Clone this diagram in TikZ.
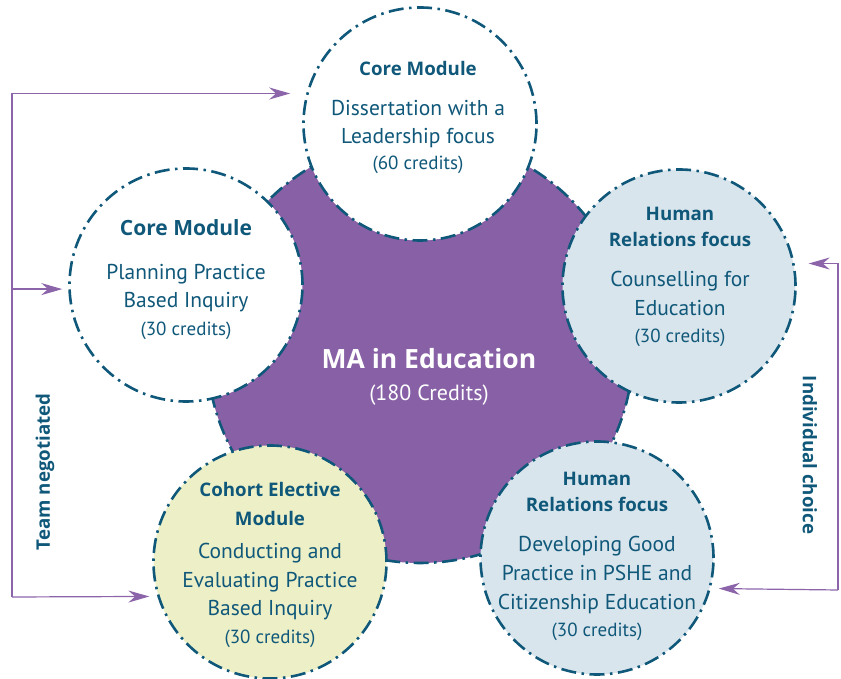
\documentclass[tikz,border=0pt]{standalone}
\usepackage{fontspec}
\setmainfont{PT Sans}
\newfontfamily\headfont{Open Sans}
\usetikzlibrary{arrows.meta}
\definecolor{mablue}{RGB}{16,88,122}
\definecolor{mapurple}{RGB}{135,96,165}
\definecolor{routepurple}{RGB}{140,100,170}
\definecolor{hrblue}{RGB}{217,229,236}
\definecolor{cohortyellow}{RGB}{237,240,199}
\newcommand\modhead{\headfont\bfseries\fontsize{18.7}{20}\selectfont}
\newcommand\credits{\fontsize{19}{22}\selectfont}
\tikzset{
  module/.style={circle,draw=mablue,line width=2.6pt,dash pattern=on 15pt off 5.5pt on 2.5pt off 5.5pt,minimum size=233pt,inner sep=0pt,fill=#1},
  modtext/.style={anchor=north,inner sep=0pt,align=center,text=mablue,font=\fontsize{21.5}{28}\selectfont},
  route/.style={draw=routepurple,line width=1.2pt,-{Stealth[length=21pt,width=12pt]}},
  routelabel/.style={text=mablue,font=\headfont\bfseries\fontsize{18.7}{20}\selectfont}
}

\begin{document}
\begin{tikzpicture}[x=1pt,y=1pt]
    \useasboundingbox (0,0) rectangle (841,679);

    \node [module=mapurple, minimum size=426pt] (ma) at (420,329) {};

    \node [module=white] (dissertation) at (420,555) {};
    \node [module=white] (planning) at (186,394) {};
    \node [module=hrblue] (counselling) at (679,393) {};
    \node [module=cohortyellow] (conducting) at (270,117) {};
    \node [module=hrblue] (pshe) at (597,121) {};

    \node [modtext, text=white] (ma-txt) at (429,331)
      {{\headfont\bfseries\fontsize{26.5}{30}\selectfont MA in Education}\\[4pt]
       {\fontsize{22}{24}\selectfont (180 Credits)}};

    \node [modtext] (dissertation-txt) at (418,618)
      {{\modhead Core Module}\\[12pt] Dissertation with a\\ Leadership focus\\[-2pt] {\credits (60 credits)}};
    \node [modtext] (planning-txt) at (186,460)
      {{\headfont\bfseries\fontsize{21}{24}\selectfont Core Module}\\[16pt] Planning Practice\\ Based Inquiry\\ {\credits (30 credits)}};
    \node [modtext] (counselling-txt) at (680,472)
      {{\modhead Human}\\[-2pt] {\modhead Relations focus}\\[12pt] Counselling for\\[1pt] Education\\[-1pt] {\credits (30 credits)}};
    \node [modtext] (conducting-txt) at (270,197)
      {{\modhead Cohort Elective}\\[1pt] {\modhead Module}\\[5pt] Conducting and\\[1pt] Evaluating Practice\\ Based Inquiry\\ {\credits (30 credits)}};
    \node [modtext] (pshe-txt) at (597,207)
      {{\modhead Human}\\[-2pt] {\modhead Relations focus}\\[12pt] Developing Good\\[1pt] Practice in PSHE and\\[1pt] Citizenship Education\\[-1pt] {\credits (30 credits)}};

    % team negotiated routes
    \coordinate (teamfoot) at (12,82);
    \draw [route, shorten >=16pt] (teamfoot) |- (dissertation.165.2);
    \draw [route, shorten >=6pt] (teamfoot |- planning.182.9) -- (planning.182.9);
    \draw [route, shorten >=8pt] (teamfoot) -- (conducting.197.3);
    \node [routelabel, rotate=90] (team) at (45,207) {Team negotiated};

    % individual choice routes
    \coordinate (choicefoot) at (838,89);
    \draw [route, shorten >=14pt] (choicefoot) |- (counselling.11.3);
    \draw [route, shorten >=8pt] (choicefoot) -- (pshe.-15.8);
    \node [routelabel, rotate=-90] (choice) at (810,224) {Individual choice};
\end{tikzpicture}
\end{document}
